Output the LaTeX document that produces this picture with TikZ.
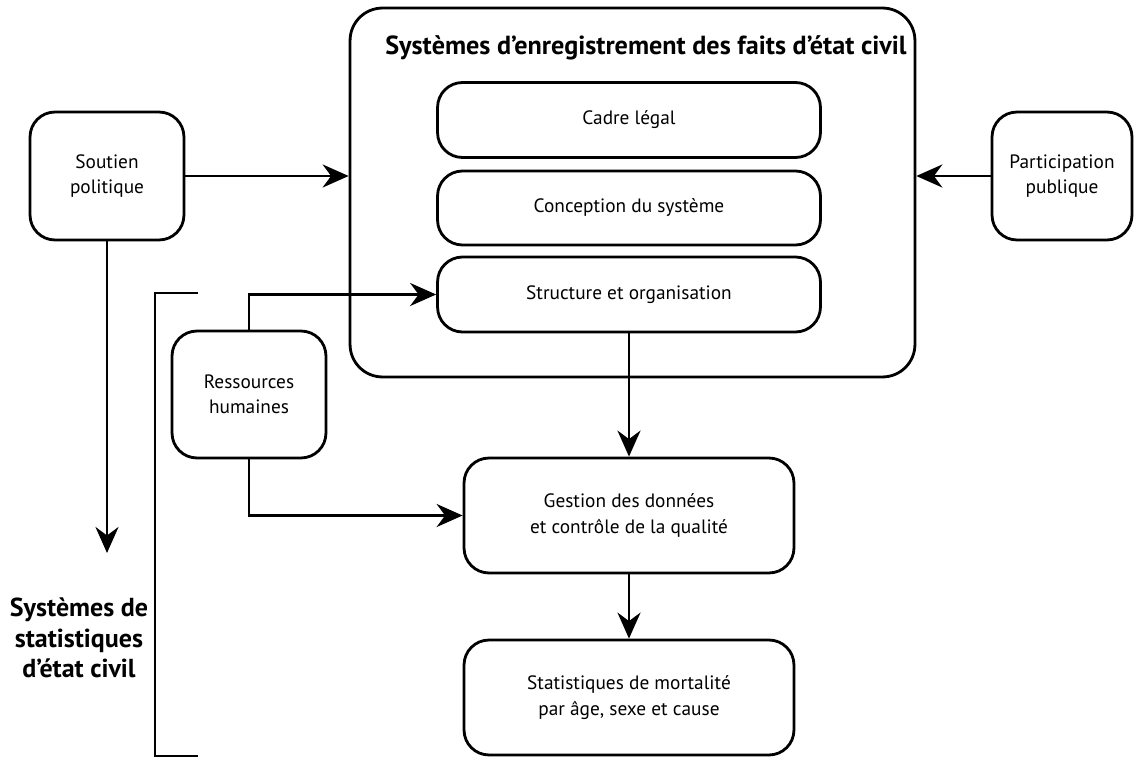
\documentclass[tikz,border=0pt]{standalone}
\usepackage{fontspec}
\setmainfont{PT Sans}
\usetikzlibrary{arrows.meta}
\tikzset{
    box/.style={draw, line width=1.6pt, rounded corners=0.5cm, align=center, font=\fontsize{11}{14.5}\selectfont, inner sep=0pt},
    arr/.style={line width=1.6pt, -{Stealth[length=5.2mm, width=4.6mm]}}
}
\begin{document}
\begin{tikzpicture}[x=0.02cm, y=-0.02cm]
        \useasboundingbox (0, 0) rectangle (1134, 757);
        %draw the outer box and its three parts
        \node[box, rounded corners=0.65cm, minimum width=11.3cm, minimum height=7.38cm] (sysrec) at (632.5, 192.5) {};
        \node[anchor=base, font=\bfseries\fontsize{14.9}{19}\selectfont] (titre) at (646, 55) {Systèmes d’enregistrement des faits d’état civil};
        \node[box, minimum width=7.66cm, minimum height=1.5cm] (cadre) at (629, 120) {Cadre légal};
        \node[box, minimum width=7.66cm, minimum height=1.48cm] (conception) at (629, 208) {Conception du système};
        \node[box, minimum width=7.66cm, minimum height=1.5cm] (structure) at (629, 294.5) {Structure et organisation};
        %side boxes
        \node[box, minimum width=3.08cm, minimum height=2.56cm] (soutien) at (107, 176) {Soutien\\politique};
        \node[box, minimum width=2.8cm, minimum height=2.56cm] (participation) at (1062, 176) {Participation\\publique};
        \node[box, minimum width=3.08cm, minimum height=2.54cm] (ressources) at (249, 394.5) {Ressources\\humaines};
        %lower boxes
        \node[box, minimum width=6.6cm, minimum height=2.3cm] (gestion) at (629, 515.5) {Gestion des données\\et contrôle de la qualité};
        \node[box, minimum width=6.6cm, minimum height=2.3cm] (mortalite) at (629, 697.5) {Statistiques de mortalité\\par âge, sexe et cause};
        \node[align=center, font=\bfseries\fontsize{14.8}{17.5}\selectfont] (statciv) at (79, 638) {Systèmes de\\statistiques\\d’état civil};
        \coordinate (soutienbas) at (107, 553);
        %bracket
        \draw[line width=1.6pt] (198, 293) -- (155, 293) -- (155, 756) -- (198, 756);
        %draw the arrows
        \draw[arr] (soutien) -- (soutien -| sysrec.west);
        \draw[arr] (participation) -- (participation -| sysrec.east);
        \draw[arr] (soutien.south) -- (soutienbas);
        \draw[arr] (ressources.north) |- (structure.west);
        \draw[arr] (ressources.south) |- (gestion.west);
        \draw[arr] (structure.south) -- (gestion.north);
        \draw[arr] (gestion.south) -- (mortalite.north);
    \end{tikzpicture}
\end{document}
